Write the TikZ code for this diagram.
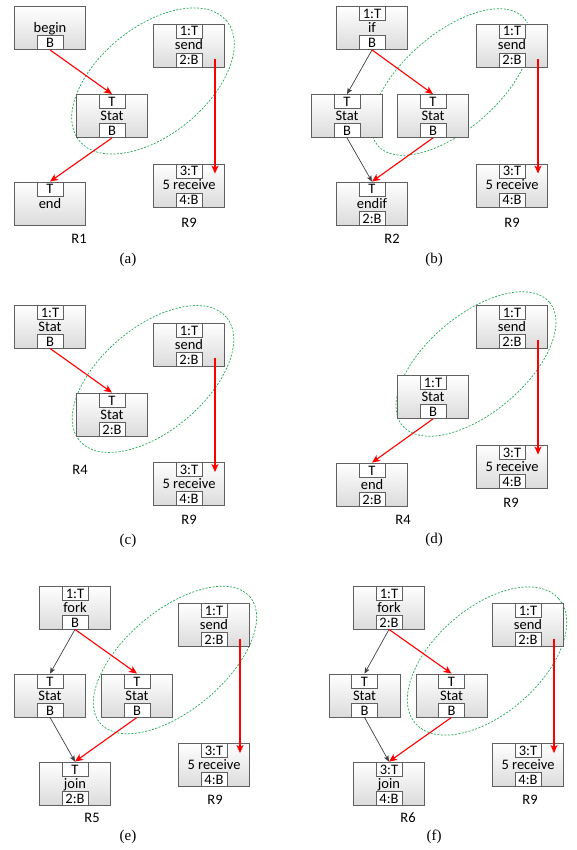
\documentclass[tikz,border=0pt]{standalone}
\usepackage{fontspec}
\setmainfont{Carlito}
\newfontfamily\capfont{Liberation Serif}
\usetikzlibrary{arrows.meta}
\definecolor{boxline}{HTML}{606060}
\definecolor{ellgreen}{HTML}{1FAA55}
\definecolor{darkarr}{HTML}{404040}
\tikzset{
  mainbox/.style={draw=boxline, line width=0.8pt, top color=white, bottom color=black!14,
    minimum width=71pt, minimum height=43pt, inner sep=0pt, text height=10pt, text depth=1pt,
    font=\fontsize{14.5}{16}\selectfont},
  subbox/.style={draw=boxline, line width=0.8pt, fill=white, minimum width=26pt, minimum height=14pt,
    inner sep=0pt, text height=10pt, text depth=0pt, font=\fontsize{14.5}{16}\selectfont},
  lbl/.style={font=\fontsize{14.5}{16}\selectfont, inner sep=0pt},
  captxt/.style={font=\capfont\fontsize{15}{17}\selectfont, inner sep=0pt},
  redarr/.style={draw=red, line width=1.1pt, -{Stealth[length=8pt,width=7pt,inset=2pt]}},
  vredarr/.style={redarr, line width=1.35pt},
  blkarr/.style={draw=darkarr, line width=0.7pt, -{Stealth[length=6pt,width=5pt,inset=1.5pt]}},
  ell/.style={draw=ellgreen, line width=0.7pt, dash pattern=on 2pt off 1.5pt},
}
\newcommand\mkblk[5]{%
  \node[mainbox] (#1) at (#2) {#4};
  \if\relax\detokenize{#3}\relax\else\node[subbox, anchor=north] (#1T) at (#1.north) {#3};\fi
  \if\relax\detokenize{#5}\relax\else\node[subbox, anchor=south] (#1B) at (#1.south) {#5};\fi
}
\newcommand\sendrecv[3]{% prefix, send pos, recv pos
  \mkblk{#1send}{#2}{1:T}{send}{2:B}
  \mkblk{#1recv}{#3}{3:T}{5 receive}{4:B}
  \draw[vredarr] ([xshift=26pt,yshift=-13.5pt]#1send.center) -- ([xshift=26pt,yshift=-10pt]#1recv.north);
}
\begin{document}
\begin{tikzpicture}[x=1pt,y=-1pt]
\path[use as bounding box] (0,0) rectangle (576,850);

% ---------------- (a)
\draw[ell, rotate around={39:(153,81)}] (153,81) ellipse [x radius=95pt, y radius=54pt];
\mkblk{abeg}{50,28}{}{begin}{B}
\mkblk{astat}{112,116}{T}{Stat}{B}
\mkblk{aend}{50,203.5}{T}{end}{}
\sendrecv{a}{189,45.5}{189,185.5}
\draw[redarr] (abegB.south) -- (astatT.north);
\draw[redarr] (astatB.south) -- (aendT.north);
\node[lbl] (aR9) at (189,223) {R9};
\node[lbl] (aR1) at (79,239) {R1};
\node[captxt] (acap) at (128,260) {(a)};

% ---------------- (b)
\draw[ell, rotate around={41:(451,82)}] (451,82) ellipse [x radius=97pt, y radius=48pt];
\mkblk{bif}{372,28}{1:T}{if}{B}
\mkblk{bstl}{347,116}{T}{Stat}{B}
\mkblk{bstr}{433,116}{T}{Stat}{B}
\mkblk{bendif}{372,203.5}{T}{endif}{2:B}
\sendrecv{b}{512,45.5}{512,185.5}
\draw[blkarr] (bifB.south) -- (bstlT.north);
\draw[redarr] (bifB.south) -- (bstrT.north);
\draw[blkarr] (bstlB.south) -- (bendifT.north);
\draw[redarr] (bstrB.south) -- (bendifT.north);
\node[lbl] (bR9) at (512,223) {R9};
\node[lbl] (bR2) at (392,239) {R2};
\node[captxt] (bcap) at (434,260) {(b)};

% ---------------- (c)
\draw[ell, rotate around={40:(153,379)}] (153,379) ellipse [x radius=96pt, y radius=52pt];
\mkblk{cst1}{50,326.5}{1:T}{Stat}{B}
\mkblk{cst2}{112,414.5}{T}{Stat}{2:B}
\sendrecv{c}{189,344.5}{189,484}
\draw[redarr] (cst1B.south) -- (cst2T.north);
\node[lbl] (cR4) at (80,470) {R4};
\node[lbl] (cR9) at (189,520) {R9};
\node[captxt] (ccap) at (128,541) {(c)};

% ---------------- (d)
\draw[ell, rotate around={40:(476,364)}] (476,364) ellipse [x radius=96pt, y radius=49pt];
\mkblk{dst}{433,397}{1:T}{Stat}{B}
\mkblk{dend}{372,484.5}{T}{end}{2:B}
\sendrecv{d}{512,326.5}{512,466.5}
\draw[redarr] (dstB.south) -- (dendT.north);
\node[lbl] (dR9) at (511,503) {R9};
\node[lbl] (dR4) at (403,520) {R4};
\node[captxt] (dcap) at (434,540) {(d)};

% ---------------- (e)
\draw[ell, rotate around={40:(175,660)}] (175,660) ellipse [x radius=98pt, y radius=50pt];
\mkblk{efork}{75,607.5}{1:T}{fork}{B}
\mkblk{estl}{50,695.5}{T}{Stat}{B}
\mkblk{estr}{137,695.5}{T}{Stat}{B}
\mkblk{ejoin}{75,783.5}{T}{join}{2:B}
\sendrecv{e}{214,625}{214,765}
\draw[blkarr] (eforkB.south) -- (estlT.north);
\draw[redarr] (eforkB.south) -- (estrT.north);
\draw[blkarr] (estlB.south) -- (ejoinT.north);
\draw[redarr] (estrB.south) -- (ejoinT.north);
\node[lbl] (eR9) at (215,800) {R9};
\node[lbl] (eR5) at (92,818) {R5};
\node[captxt] (ecap) at (128,837) {(e)};

% ---------------- (f)
\draw[ell, rotate around={41:(487,661)}] (487,661) ellipse [x radius=95pt, y radius=53pt];
\mkblk{ffork}{389,607.5}{1:T}{fork}{2:B}
\mkblk{fstl}{364.5,695.5}{T}{Stat}{B}
\mkblk{fstr}{451.5,695.5}{T}{Stat}{B}
\mkblk{fjoin}{389,783.5}{3:T}{join}{4:B}
\sendrecv{f}{528,625}{528,765}
\draw[blkarr] (fforkB.south) -- (fstlT.north);
\draw[redarr] (fforkB.south) -- (fstrT.north);
\draw[blkarr] (fstlB.south) -- (fjoinT.north);
\draw[redarr] (fstrB.south) -- (fjoinT.north);
\node[lbl] (fR9) at (530,800) {R9};
\node[lbl] (fR6) at (408,818) {R6};
\node[captxt] (fcap) at (434,837) {(f)};
\end{tikzpicture}
\end{document}
